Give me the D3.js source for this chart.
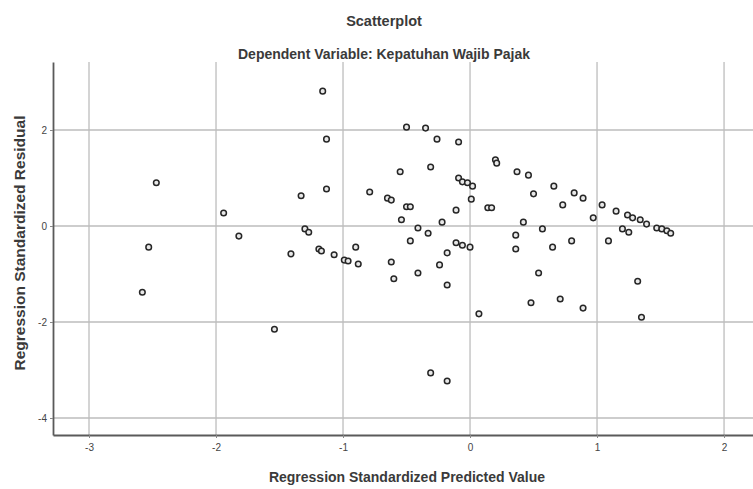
<!DOCTYPE html>
<html>
<head>
<meta charset="utf-8">
<script src="https://cdn.jsdelivr.net/npm/d3@7"></script>
<style>
  body { margin: 0; background: #fff; }
  svg { display: block; font-family: "Liberation Sans", Arial, sans-serif; }
</style>
</head>
<body>
<svg id="chart"></svg>
<script>
// values (x = standardized predicted, y = standardized residual)
let predicted = [
  -2.47, -2.53, -2.58, -1.94, -1.82, -1.54, -1.41, -1.33, -1.30, -1.27,
  -1.16, -1.13, -1.13, -1.19, -1.17, -1.07, -0.99, -0.96, -0.90, -0.88,
  -0.79, -0.65, -0.62, -0.62, -0.60, -0.55, -0.54, -0.50, -0.50, -0.47,
  -0.47, -0.41, -0.41, -0.35, -0.33, -0.31, -0.31, -0.26, -0.24, -0.22,
  -0.18, -0.18, -0.18, -0.11, -0.11, -0.09, -0.09, -0.06, -0.06, -0.02,
  0.00, 0.02, 0.01, 0.07, 0.14, 0.17, 0.20, 0.21, 0.36, 0.36,
  0.37, 0.42, 0.46, 0.48, 0.50, 0.54, 0.57, 0.65, 0.66, 0.71,
  0.73, 0.80, 0.82, 0.89, 0.89, 0.97, 1.04, 1.09, 1.15, 1.20,
  1.24, 1.25, 1.28, 1.32, 1.34, 1.35, 1.39, 1.47, 1.51, 1.55, 1.58
];
let residual = [
  0.90, -0.44, -1.38, 0.27, -0.21, -2.15, -0.58, 0.63, -0.06, -0.13,
  2.81, 1.81, 0.77, -0.48, -0.52, -0.60, -0.71, -0.73, -0.44, -0.79,
  0.71, 0.58, 0.54, -0.75, -1.10, 1.13, 0.13, 2.06, 0.40, 0.40,
  -0.31, -0.04, -0.98, 2.04, -0.15, 1.23, -3.06, 1.81, -0.81, 0.08,
  -0.56, -1.23, -3.23, 0.33, -0.35, 1.75, 1.00, 0.92, -0.40, 0.90,
  -0.44, 0.83, 0.56, -1.83, 0.38, 0.38, 1.38, 1.31, -0.19, -0.48,
  1.13, 0.08, 1.06, -1.60, 0.67, -0.98, -0.06, -0.44, 0.83, -1.52,
  0.44, -0.31, 0.69, 0.58, -1.71, 0.17, 0.44, -0.31, 0.31, -0.06,
  0.23, -0.13, 0.17, -1.15, 0.13, -1.90, 0.04, -0.04, -0.06, -0.10, -0.15
];

let xTicks = [-3, -2, -1, 0, 1, 2];
let yTicks = [-4, -2, 0, 2];

let width = 753;
let height = 489;
let plot = {left: 53, right: 753, top: 62, bottom: 435};

let svg = d3.select("#chart").attr("width", width).attr("height", height);

let xScale = d3.scaleLinear().domain([-3.2835, 2.228]).range([plot.left, plot.right]);
let yScale = d3.scaleLinear().domain([-4.354, 3.417]).range([plot.bottom, plot.top]);

// grid
svg.append("g").selectAll("line")
    .data(xTicks)
    .enter()
    .append("line")
    .attr("x1", d => xScale(d))
    .attr("x2", d => xScale(d))
    .attr("y1", plot.top)
    .attr("y2", plot.bottom)
    .attr("stroke", "#bdbdbd")
    .attr("stroke-width", 1.3);

svg.append("g").selectAll("line")
    .data(yTicks)
    .enter()
    .append("line")
    .attr("x1", plot.left)
    .attr("x2", plot.right)
    .attr("y1", d => yScale(d))
    .attr("y2", d => yScale(d))
    .attr("stroke", "#bdbdbd")
    .attr("stroke-width", 1.3);

// axes
let fmt = d => String(d);
let xAxis = d3.axisBottom(xScale).tickValues(xTicks).tickFormat(fmt).tickSize(3).tickPadding(6).tickSizeOuter(0);
let yAxis = d3.axisLeft(yScale).tickValues(yTicks).tickFormat(fmt).tickSize(3).tickPadding(3).tickSizeOuter(0);

let gx = svg.append("g")
    .attr("transform", "translate(0," + plot.bottom + ")")
    .call(xAxis);
let gy = svg.append("g")
    .attr("transform", "translate(" + plot.left + ",0)")
    .call(yAxis);

[gx, gy].forEach(g => {
    g.select(".domain").attr("stroke", "#5a5a5a").attr("stroke-width", 1.8);
    g.selectAll(".tick line").attr("stroke", "#888");
    g.selectAll(".tick text").attr("fill", "#444").style("font-size", "10px");
});

// points
svg.append("g").selectAll("circle")
    .data(predicted)
    .enter()
    .append("circle")
    .attr("cx", (d) => xScale(d))
    .attr("cy", (d, i) => yScale(residual[i]))
    .attr("r", 2.8)
    .attr("fill", "#e8e8e8")
    .attr("stroke", "#262626")
    .attr("stroke-width", 1.5);

// titles
svg.append("text")
    .attr("x", 384)
    .attr("y", 26)
    .attr("text-anchor", "middle")
    .attr("fill", "#3a3a3a")
    .style("font-size", "14.5px")
    .style("font-weight", "bold")
    .text("Scatterplot");

svg.append("text")
    .attr("x", 384)
    .attr("y", 59)
    .attr("text-anchor", "middle")
    .attr("fill", "#3a3a3a")
    .style("font-size", "14px")
    .style("font-weight", "bold")
    .text("Dependent Variable: Kepatuhan Wajib Pajak");

svg.append("text")
    .attr("x", 407)
    .attr("y", 482)
    .attr("text-anchor", "middle")
    .attr("fill", "#3a3a3a")
    .style("font-size", "14px")
    .style("font-weight", "bold")
    .text("Regression Standardized Predicted Value");

svg.append("text")
    .attr("transform", "translate(25,243)rotate(-90)")
    .attr("text-anchor", "middle")
    .attr("fill", "#3a3a3a")
    .style("font-size", "15.5px")
    .style("font-weight", "bold")
    .text("Regression Standardized Residual");
</script>
</body>
</html>
